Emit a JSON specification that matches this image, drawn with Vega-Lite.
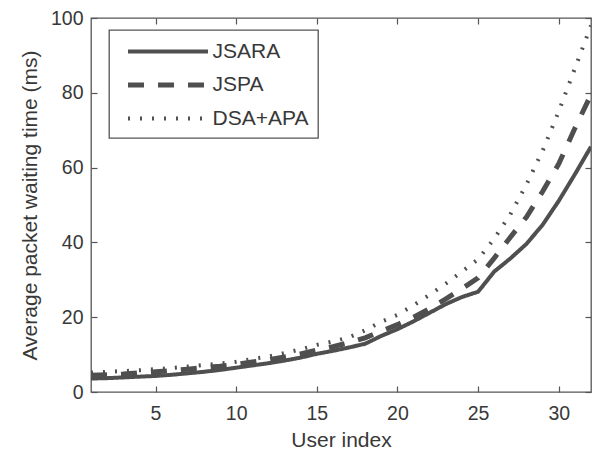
{
  "$schema": "https://vega.github.io/schema/vega-lite/v6.json",
  "width": 500,
  "height": 374,
  "autosize": "none",
  "padding": {"left": 91, "top": 18, "right": 2, "bottom": 58},
  "background": "white",
  "config": {
    "font": "Liberation Sans",
    "view": {"stroke": "#555555", "strokeWidth": 1.3},
    "legend": {"strokeColor": "#555555", "strokeWidth": 1.3, "fillColor": "white"},
    "axis": {
      "domain": false,
      "grid": false,
      "tickColor": "#555555",
      "tickWidth": 1.2,
      "tickSize": -6,
      "labelColor": "#383838",
      "labelFontSize": 19.5,
      "titleColor": "#383838",
      "titleFontSize": 21,
      "titleFontWeight": "normal"
    }
  },
  "datasets": {
    "waiting": [
      {"user": 1, "scheme": "JSARA", "wait": 3.6}, {"user": 2, "scheme": "JSARA", "wait": 3.7}, {"user": 3, "scheme": "JSARA", "wait": 3.9}, {"user": 4, "scheme": "JSARA", "wait": 4.1},
      {"user": 5, "scheme": "JSARA", "wait": 4.3}, {"user": 6, "scheme": "JSARA", "wait": 4.6}, {"user": 7, "scheme": "JSARA", "wait": 5.0}, {"user": 8, "scheme": "JSARA", "wait": 5.4},
      {"user": 9, "scheme": "JSARA", "wait": 5.9}, {"user": 10, "scheme": "JSARA", "wait": 6.5}, {"user": 11, "scheme": "JSARA", "wait": 7.1}, {"user": 12, "scheme": "JSARA", "wait": 7.7},
      {"user": 13, "scheme": "JSARA", "wait": 8.4}, {"user": 14, "scheme": "JSARA", "wait": 9.2}, {"user": 15, "scheme": "JSARA", "wait": 10.2}, {"user": 16, "scheme": "JSARA", "wait": 11.0},
      {"user": 17, "scheme": "JSARA", "wait": 11.9}, {"user": 18, "scheme": "JSARA", "wait": 12.9}, {"user": 19, "scheme": "JSARA", "wait": 15.0}, {"user": 20, "scheme": "JSARA", "wait": 16.8},
      {"user": 21, "scheme": "JSARA", "wait": 18.9}, {"user": 22, "scheme": "JSARA", "wait": 21.2}, {"user": 23, "scheme": "JSARA", "wait": 23.5}, {"user": 24, "scheme": "JSARA", "wait": 25.4},
      {"user": 25, "scheme": "JSARA", "wait": 26.8}, {"user": 26, "scheme": "JSARA", "wait": 32.2}, {"user": 27, "scheme": "JSARA", "wait": 35.7}, {"user": 28, "scheme": "JSARA", "wait": 39.6},
      {"user": 29, "scheme": "JSARA", "wait": 44.7}, {"user": 30, "scheme": "JSARA", "wait": 51.1}, {"user": 31, "scheme": "JSARA", "wait": 58.2}, {"user": 32, "scheme": "JSARA", "wait": 65.6},
      {"user": 1, "scheme": "JSPA", "wait": 4.5}, {"user": 2, "scheme": "JSPA", "wait": 4.6}, {"user": 3, "scheme": "JSPA", "wait": 4.8}, {"user": 4, "scheme": "JSPA", "wait": 5.1},
      {"user": 5, "scheme": "JSPA", "wait": 5.4}, {"user": 6, "scheme": "JSPA", "wait": 5.7}, {"user": 7, "scheme": "JSPA", "wait": 6.1}, {"user": 8, "scheme": "JSPA", "wait": 6.5},
      {"user": 9, "scheme": "JSPA", "wait": 6.9}, {"user": 10, "scheme": "JSPA", "wait": 7.4}, {"user": 11, "scheme": "JSPA", "wait": 8.0}, {"user": 12, "scheme": "JSPA", "wait": 8.6},
      {"user": 13, "scheme": "JSPA", "wait": 9.4}, {"user": 14, "scheme": "JSPA", "wait": 10.2}, {"user": 15, "scheme": "JSPA", "wait": 11.2}, {"user": 16, "scheme": "JSPA", "wait": 12.1},
      {"user": 17, "scheme": "JSPA", "wait": 13.2}, {"user": 18, "scheme": "JSPA", "wait": 14.5}, {"user": 19, "scheme": "JSPA", "wait": 16.3}, {"user": 20, "scheme": "JSPA", "wait": 18.0},
      {"user": 21, "scheme": "JSPA", "wait": 20.0}, {"user": 22, "scheme": "JSPA", "wait": 22.3}, {"user": 23, "scheme": "JSPA", "wait": 24.9}, {"user": 24, "scheme": "JSPA", "wait": 27.6},
      {"user": 25, "scheme": "JSPA", "wait": 30.5}, {"user": 26, "scheme": "JSPA", "wait": 35.8}, {"user": 27, "scheme": "JSPA", "wait": 41.4}, {"user": 28, "scheme": "JSPA", "wait": 46.8},
      {"user": 29, "scheme": "JSPA", "wait": 53.6}, {"user": 30, "scheme": "JSPA", "wait": 61.0}, {"user": 31, "scheme": "JSPA", "wait": 70.5}, {"user": 32, "scheme": "JSPA", "wait": 79.5},
      {"user": 1, "scheme": "DSA+APA", "wait": 5.2}, {"user": 2, "scheme": "DSA+APA", "wait": 5.4}, {"user": 3, "scheme": "DSA+APA", "wait": 5.6}, {"user": 4, "scheme": "DSA+APA", "wait": 5.8},
      {"user": 5, "scheme": "DSA+APA", "wait": 6.1}, {"user": 6, "scheme": "DSA+APA", "wait": 6.4}, {"user": 7, "scheme": "DSA+APA", "wait": 6.8}, {"user": 8, "scheme": "DSA+APA", "wait": 7.2},
      {"user": 9, "scheme": "DSA+APA", "wait": 7.6}, {"user": 10, "scheme": "DSA+APA", "wait": 8.1}, {"user": 11, "scheme": "DSA+APA", "wait": 8.8}, {"user": 12, "scheme": "DSA+APA", "wait": 9.5},
      {"user": 13, "scheme": "DSA+APA", "wait": 10.4}, {"user": 14, "scheme": "DSA+APA", "wait": 11.4}, {"user": 15, "scheme": "DSA+APA", "wait": 12.6}, {"user": 16, "scheme": "DSA+APA", "wait": 13.5},
      {"user": 17, "scheme": "DSA+APA", "wait": 14.6}, {"user": 18, "scheme": "DSA+APA", "wait": 16.5}, {"user": 19, "scheme": "DSA+APA", "wait": 18.8}, {"user": 20, "scheme": "DSA+APA", "wait": 20.6},
      {"user": 21, "scheme": "DSA+APA", "wait": 23.2}, {"user": 22, "scheme": "DSA+APA", "wait": 26.0}, {"user": 23, "scheme": "DSA+APA", "wait": 29.0}, {"user": 24, "scheme": "DSA+APA", "wait": 32.2},
      {"user": 25, "scheme": "DSA+APA", "wait": 35.5}, {"user": 26, "scheme": "DSA+APA", "wait": 41.0}, {"user": 27, "scheme": "DSA+APA", "wait": 47.5}, {"user": 28, "scheme": "DSA+APA", "wait": 55.5},
      {"user": 29, "scheme": "DSA+APA", "wait": 64.5}, {"user": 30, "scheme": "DSA+APA", "wait": 75.0}, {"user": 31, "scheme": "DSA+APA", "wait": 86.5}, {"user": 32, "scheme": "DSA+APA", "wait": 98.0}
    ]
  },
  "data": {"name": "waiting"},
  "layer": [
    {
      "mark": {"type": "line", "color": "#4f4f4f", "clip": true, "strokeCap": "butt"},
      "encoding": {
        "x": {
          "field": "user", "type": "quantitative",
          "scale": {"domain": [1, 32], "nice": false, "zero": false},
          "axis": {"orient": "bottom", "values": [5, 10, 15, 20, 25, 30], "title": "User index", "labelPadding": 18, "titlePadding": 7}
        },
        "y": {
          "field": "wait", "type": "quantitative",
          "scale": {"domain": [0, 100], "nice": false},
          "axis": {"orient": "left", "values": [0, 20, 40, 60, 80, 100], "title": "Average packet waiting time (ms)", "labelPadding": 14, "titlePadding": 10}
        },
        "strokeDash": {
          "field": "scheme", "type": "nominal",
          "scale": {"domain": ["JSARA", "JSPA", "DSA+APA"], "range": [[1, 0], [16, 14], [2, 10]]},
          "legend": {
            "title": null,
            "orient": "none",
            "legendX": 18,
            "legendY": 12,
            "symbolType": "M-4,0H4",
            "symbolSize": 400,
            "symbolStrokeColor": "#4f4f4f",
            "symbolFillColor": "transparent",
            "symbolOffset": 37,
            "labelOffset": 32,
            "labelFontSize": 21,
            "labelColor": "#383838",
            "rowPadding": 11,
            "padding": 9.5,
            "labelLimit": 300
          }
        },
        "strokeWidth": {
          "field": "scheme", "type": "nominal",
          "scale": {"type": "ordinal", "domain": ["JSARA", "JSPA", "DSA+APA"], "range": [4, 5, 4]}
        }
      }
    },
    {
      "mark": {"type": "line", "opacity": 0},
      "encoding": {
        "x": {"field": "user", "type": "quantitative", "axis": {"orient": "top", "values": [5, 10, 15, 20, 25, 30], "labels": false, "title": null}},
        "y": {"field": "wait", "type": "quantitative", "axis": {"orient": "right", "values": [0, 20, 40, 60, 80, 100], "labels": false, "title": null}}
      }
    }
  ],
  "resolve": {"axis": {"x": "independent", "y": "independent"}}
}
